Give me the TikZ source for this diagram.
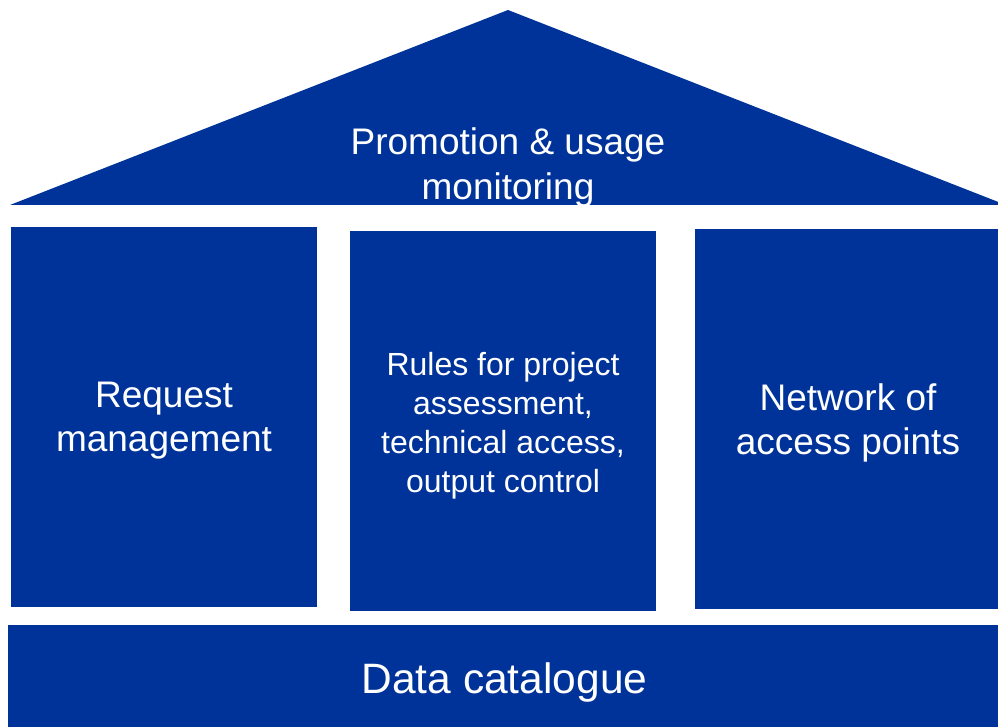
\documentclass[tikz,border=0pt]{standalone}
\usepackage{fontspec}
\setmainfont{Liberation Sans}
\definecolor{dblue}{RGB}{0,51,153}
\begin{document}
\begin{tikzpicture}[x=1pt,y=-1pt,
  block/.style={fill=dblue, draw=none, inner sep=0pt},
  lbl/.style={text=white, align=center, inner sep=0pt}]
\useasboundingbox (0,0) rectangle (998,727);
\clip (0,0) rectangle (998,727);
\fill[dblue] (10,205) -- (508,10) -- (1006,205) -- cycle;
\node[lbl, font=\fontsize{37}{45}\selectfont] (roof) at (508,167.5) {Promotion \& usage\\monitoring};
\node[block, minimum width=306pt, minimum height=380pt,
  label={[name=reqt, lbl, yshift=-4pt, font=\fontsize{37}{44}\selectfont]center:{Request\\management}}] (req) at (164,417) {};
\node[block, minimum width=306pt, minimum height=380pt,
  label={[name=rulest, lbl, yshift=-4.5pt, font=\fontsize{32}{39}\selectfont]center:{Rules for project\\assessment,\\technical access,\\output control}}] (rules) at (503,421) {};
\node[block, minimum width=306pt, minimum height=380pt,
  label={[name=nett, lbl, yshift=-4pt, font=\fontsize{37}{44}\selectfont]center:{Network of\\access points}}] (net) at (848,419) {};
\node[block, minimum width=993pt, minimum height=105pt,
  label={[name=catt, lbl, yshift=-5pt, font=\fontsize{42.5}{50}\selectfont]center:{Data catalogue}}] (cat) at (504.5,677.5) {};
\end{tikzpicture}
\end{document}
